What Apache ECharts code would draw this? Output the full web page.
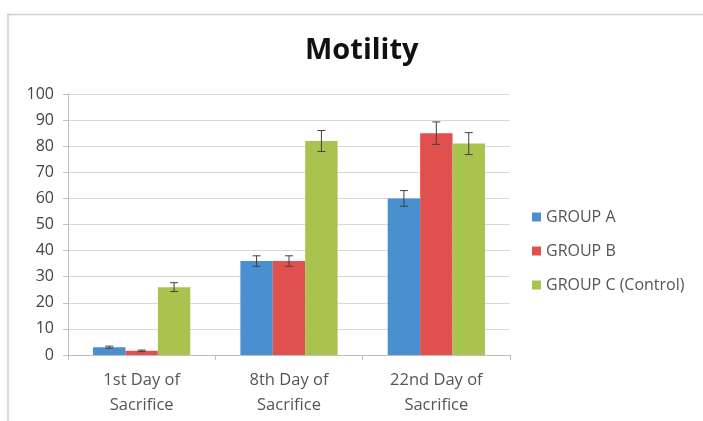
<!DOCTYPE html>
<html><head><meta charset="utf-8">
<script src="https://cdn.jsdelivr.net/npm/echarts@6/dist/echarts.min.js"></script>
<style>html,body{margin:0;padding:0;background:#fff}#c{width:703px;height:421px}</style>
</head><body><div id="c"></div>
<script>
var categories = ['1st Day of\nSacrifice', '8th Day of\nSacrifice', '22nd Day of\nSacrifice'];
var seriesNames = ['GROUP A', 'GROUP B', 'GROUP C (Control)'];
var groupA = [3, 36, 60];
var groupB = [1.6, 36, 85];
var groupC = [26, 82, 81];
var errA = [0.4, 2, 3];
var errB = [0.3, 2, 4.3];
var errC = [1.7, 4, 4.2];
var yTicks = [0, 10, 20, 30, 40, 50, 60, 70, 80, 90, 100];
var colors = ['#4a8fd0', '#e0504f', '#a8c44e'];

var values = [groupA, groupB, groupC];
var errs = [errA, errB, errC];
var gapRatio = 0.34;

var series = [];
values.forEach(function (v, s) {
  series.push({
    name: seriesNames[s], type: 'bar', data: v,
    barGap: '0%', barCategoryGap: (gapRatio * 100) + '%',
    itemStyle: { color: colors[s] }, z: 2
  });
});
values.forEach(function (v, s) {
  var d = v.map(function (val, i) { return [i, val - errs[s][i], val + errs[s][i]]; });
  series.push({
    type: 'custom', z: 5, silent: true,
    data: d,
    encode: { x: 0, y: [1, 2] },
    renderItem: function (params, api) {
      var i = api.value(0);
      var lo = api.coord([i, api.value(1)]);
      var hi = api.coord([i, api.value(2)]);
      var catW = api.size([1, 0])[0];
      var bw = catW * (1 - gapRatio) / 3;
      var x = lo[0] + (s - 1) * bw;
      var cap = 4;
      var st = { stroke: '#404040', lineWidth: 1 };
      return { type: 'group', children: [
        { type: 'line', shape: { x1: x, y1: lo[1], x2: x, y2: hi[1] }, style: st },
        { type: 'line', shape: { x1: x - cap, y1: lo[1], x2: x + cap, y2: lo[1] }, style: st },
        { type: 'line', shape: { x1: x - cap, y1: hi[1], x2: x + cap, y2: hi[1] }, style: st }
      ]};
    }
  });
});

var chart = echarts.init(document.getElementById('c'));
chart.setOption({
  animation: false,
  backgroundColor: '#fff',
  title: {
    text: 'Motility', left: 300, top: 31,
    textStyle: { fontFamily: 'Open Sans', fontWeight: 'bold', fontSize: 29, color: '#111' }
  },
  legend: {
    orient: 'vertical', left: 527, top: 204, itemGap: 18,
    itemWidth: 9, itemHeight: 9, icon: 'rect',
    data: seriesNames,
    textStyle: { fontFamily: 'Open Sans', fontSize: 16, color: '#555' }
  },
  grid: { left: 68, right: 193, top: 94, bottom: 66 },
  xAxis: {
    type: 'category', data: categories,
    axisLine: { lineStyle: { color: '#bfbfbf' } },
    axisTick: { show: true, length: 5, lineStyle: { color: '#bfbfbf' } },
    axisLabel: { fontFamily: 'Open Sans', fontSize: 16.5, color: '#555', margin: 13, lineHeight: 25 }
  },
  yAxis: {
    type: 'value', min: 0, max: 100, interval: 10,
    axisLine: { show: true, lineStyle: { color: '#bfbfbf' } },
    axisTick: { show: true, length: 5, lineStyle: { color: '#bfbfbf' } },
    splitLine: { lineStyle: { color: '#d9d9d9' } },
    axisLabel: { fontFamily: 'Open Sans', fontSize: 16, color: '#444', margin: 14,
      formatter: function (v) { return yTicks.indexOf(v) >= 0 ? String(v) : ''; } }
  },
  graphic: [
    { type: 'line', shape: { x1: 7, y1: 14.5, x2: 703, y2: 14.5 }, style: { stroke: '#cfcfcf', lineWidth: 1.5 } },
    { type: 'line', shape: { x1: 8, y1: 14, x2: 8, y2: 421 }, style: { stroke: '#cfcfcf', lineWidth: 1.5 } }
  ],
  series: series
});
</script></body></html>
